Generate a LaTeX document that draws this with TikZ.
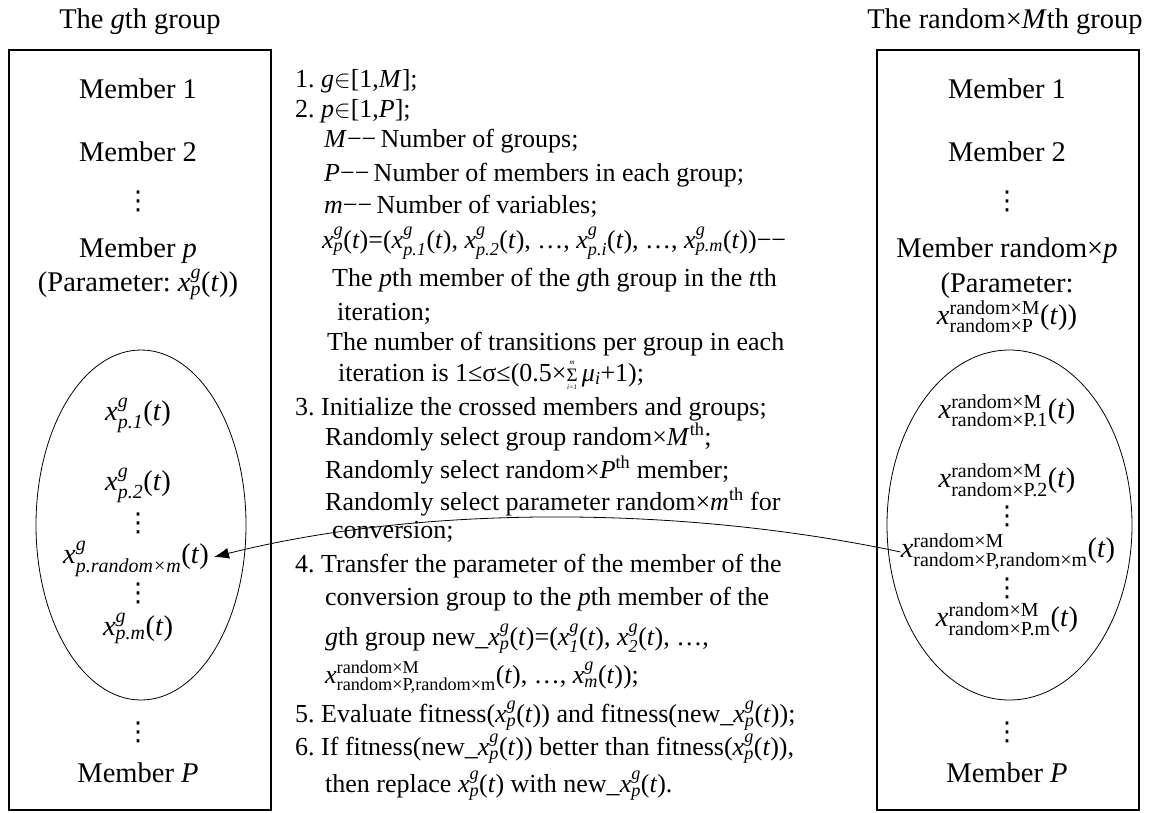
\documentclass[tikz,border=0pt]{standalone}
\usepackage{amsmath}
\usepackage{fontspec}
\setmainfont{Liberation Serif}
\newfontfamily\dvfont{DejaVu Sans}
\usetikzlibrary{shapes.geometric,arrows.meta}
\frenchspacing
\newcommand\vd{{\dvfont ⋮}}
\newcommand\xgp{\textit{x}\ensuremath{^{\text{\itshape g}}_{\text{\itshape p}}}(\textit{t})}
\newcommand\xsub[2]{\textit{x}\ensuremath{^{\text{\itshape #1}}_{\text{\itshape #2}}}(\textit{t})}
\newcommand\xrup[2]{\textit{x}\ensuremath{^{\text{#1}}_{\text{#2}}}(\textit{t})}
\newcommand\tinyscr[1]{\hbox{\fontsize{7}{7}\selectfont\itshape #1}}
\newcommand\smallsum{\setbox0\hbox{\fontsize{19}{19}\selectfont Σ}%
  \hbox to \wd0{\hss\raisebox{0.62em}{\tinyscr{m}}\hss}\kern-\wd0
  \hbox to \wd0{\hss\raisebox{-0.32em}{\tinyscr{i=1}}\hss}\kern-\wd0\box0}
\begin{document}
\begin{tikzpicture}[x=1pt,y=-1pt,
  ctr/.style={font=\fontsize{26}{30}\selectfont, anchor=base west, inner sep=0pt},
  side/.style={font=\fontsize{28.5}{33}\selectfont, anchor=base, inner sep=0pt},
  dots/.style={font=\fontsize{26}{30}\selectfont, anchor=center, inner sep=0pt},
  grpbox/.style={draw, line width=1.2pt, minimum width=262pt, minimum height=760pt, inner sep=0pt},
  grpell/.style={draw, ellipse, line width=0.8pt, inner sep=0pt, minimum height=350pt},
  link/.style={-{Latex[length=15pt,width=11pt]}, line width=0.8pt}]
\useasboundingbox (0,0) rectangle (1153,812);

% boxes and ellipses
\node[grpbox] (lbox) at (140,430) {};
\node[grpbox] (rbox) at (1008,430) {};
\node[grpell, minimum width=210pt] (lell) at (141,525) {};
\node[grpell, minimum width=245pt] (rell) at (1009.5,525) {};

% titles
\node[side] (ltitle) at (140,28) {The \textit{g}th group};
\node[side] (rtitle) at (1005,28) {The random×\textit{M}th group};

% left group
\node[side] (lm1) at (138,98) {Member 1};
\node[side] (lm2) at (138,161) {Member 2};
\node[dots] (ld1) at (138,201) {\vd};
\node[side] (lmp) at (138,257) {Member \textit{p}};
\node[side] (lpar) at (138,291) {(Parameter: \xgp)};
\node[side] (lx1) at (138,420) {\xsub{g}{p.1}};
\node[side] (lx2) at (138,490) {\xsub{g}{p.2}};
\node[dots] (ld2) at (138,523) {\vd};
\node[side] (ltgt) at (136,563) {\xsub{g}{p.random×m}};
\node[dots] (ld3) at (138,593) {\vd};
\node[side] (lxm) at (138,635) {\xsub{g}{p.m}};
\node[dots] (ld4) at (138,732) {\vd};
\node[side] (lmP) at (138,782) {Member \textit{P}};

% right group
\node[side] (rm1) at (1007,98) {Member 1};
\node[side] (rm2) at (1007,161) {Member 2};
\node[dots] (rd1) at (1007,201) {\vd};
\node[side] (rmp) at (1007,257) {Member random×\textit{p}};
\node[side] (rpar) at (1007,292) {(Parameter:};
\node[side] (rpar2) at (1007,324) {\xrup{random×M}{random×P})};
\node[side] (rx1) at (1007,418) {\xrup{random×M}{random×P.1}};
\node[side] (rx2) at (1007,487) {\xrup{random×M}{random×P.2}};
\node[dots] (rd2) at (1007,516) {\vd};
\node[side] (rsrc) at (1008,557) {\xrup{random×M}{random×P,random×m}};
\node[dots] (rd3) at (1007,588) {\vd};
\node[side] (rxm) at (1007,626) {\xrup{random×M}{random×P.m}};
\node[dots] (rd4) at (1007,732) {\vd};
\node[side] (rmP) at (1007,782) {Member \textit{P}};

% central text
\node[ctr] (l1) at (295,87) {1. \textit{g}$\in$[1,\textit{M}];};
\node[ctr] (l2) at (295,117) {2. \textit{p}$\in$[1,\textit{P}];};
\node[ctr] (l3) at (324,147) {\textit{M}−−\,Number of groups;};
\node[ctr] (l4) at (324,181) {\textit{P}−−\,Number of members in each group;};
\node[ctr] (l5) at (324,213) {\textit{m}−−\,Number of variables;};
\node[ctr] (l6) at (322,248) {\xgp=(\xsub{g}{p.1}, \xsub{g}{p.2}, …, \xsub{g}{p.i}, …, \xsub{g}{p.m})−−};
\node[ctr] (l7) at (332,286) {The \textit{p}th member of the \textit{g}th group in the \textit{t}th};
\node[ctr] (l8) at (337,320) {iteration;};
\node[ctr] (l9) at (327,350) {The number of transitions per group in each};
\node[ctr] (l10) at (338,381) {iteration is 1≤σ≤(0.5×\smallsum\,\textit{μ}\ensuremath{_{\text{\itshape i}}}+1);};
\node[ctr] (l11) at (295,415) {3. Initialize the crossed members and groups;};
\node[ctr] (l12) at (325,445) {Randomly select group random×\textit{M}\textsuperscript{th};};
\node[ctr] (l13) at (325,478) {Randomly select random×\textit{P}\textsuperscript{th} member;};
\node[ctr] (l14) at (325,510) {Randomly select parameter random×\textit{m}\textsuperscript{th} for};
\node[ctr] (l15) at (332,538) {conversion;};
\node[ctr] (l16) at (295,572) {4. Transfer the parameter of the member of the};
\node[ctr] (l17) at (325,605) {conversion group to the \textit{p}th member of the};
\node[ctr] (l18) at (325,645) {\textit{g}th group new\_\xgp=(\xsub{g}{1}, \xsub{g}{2}, …,};
\node[ctr] (l19) at (325,683) {\xrup{random×M}{random×P,random×m}, …, \xsub{g}{m});};
\node[ctr] (l20) at (295,722) {5. Evaluate fitness(\xgp) and fitness(new\_\xgp);};
\node[ctr] (l21) at (295,755) {6. If fitness(new\_\xgp) better than fitness(\xgp),};
\node[ctr] (l22) at (325,792) {then replace \xgp{} with new\_\xgp.};

% transfer arrow
\draw[link] ([yshift=5pt]rsrc.base west) .. controls (680,505) and (420,505) .. ([xshift=5pt,yshift=6pt]ltgt.base east);
\end{tikzpicture}
\end{document}
